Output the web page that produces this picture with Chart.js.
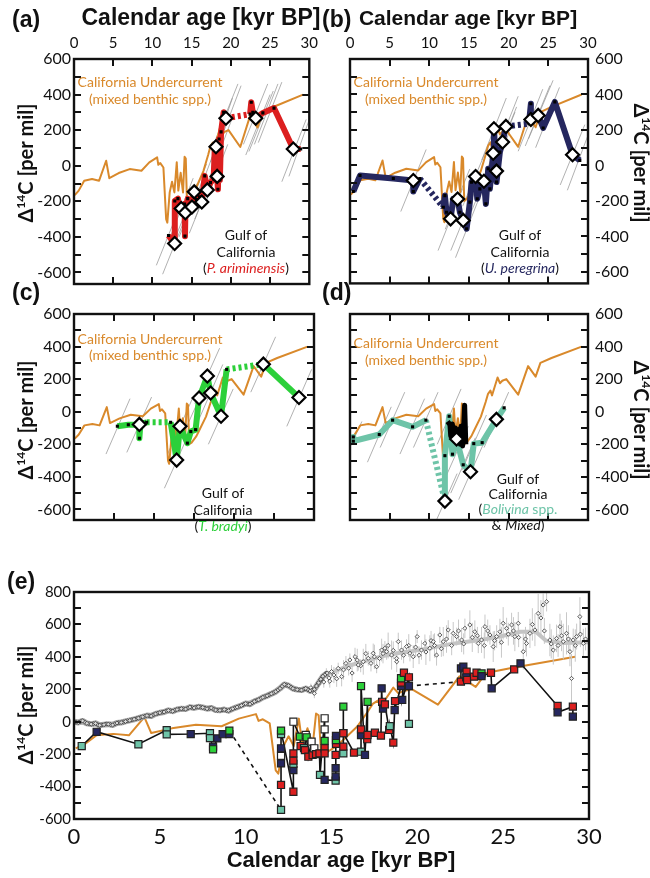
<!DOCTYPE html>
<html><head><meta charset="utf-8">
<script src="https://cdn.jsdelivr.net/npm/chart.js@4.4.0/dist/chart.umd.min.js"></script>
<style>
html,body{margin:0;padding:0;background:#fff;}
body{width:650px;height:878px;position:relative;overflow:hidden;}
canvas{position:absolute;}
</style></head><body>
<canvas id="cA" width="325" height="300" style="left:0;top:0;width:325px;height:300px"></canvas>
<canvas id="cB" width="330" height="300" style="left:320px;top:0;width:330px;height:300px"></canvas>
<canvas id="cC" width="325" height="290" style="left:0;top:270px;width:325px;height:290px"></canvas>
<canvas id="cD" width="330" height="290" style="left:320px;top:270px;width:330px;height:290px"></canvas>
<canvas id="cE" width="650" height="318" style="left:0;top:560px;width:650px;height:318px"></canvas>
<script>
// ---------- tick labels ----------
const xTicks = [0,5,10,15,20,25,30];
const yTicksAD = [-600,-400,-200,0,200,400,600];
const yMinorAD = [-600,-500,-400,-300,-200,-100,0,100,200,300,400,500];
const yTicksE = [-600,-400,-200,0,200,400,600,800];
const yMinorE = [-500,-400,-300,-200,-100,0,100,200,300,400,500,600,700];

// ---------- California Undercurrent (mixed benthic spp.) ----------
const ccAge = [0.1,0.6,1.3,2.3,3.2,4.1,4.5,5.7,7.1,8.6,9.6,10.6,10.75,11.0,11.4,11.75,11.9,12.2,12.5,12.8,13.1,13.3,13.6,13.9,14.1,14.25,14.4,14.7,15.3,15.6,16.5,17.1,17.4,17.7,17.9,18.6,18.9,19.2,19.7,21.2,22.45,23.4,24.0,25.4,29.2];
const ccD14C = [-165,-140,-84,-75,-84,28,-70,-41,-19,-28,19,47,5,15,-10,-300,-320,-150,-90,-150,19,-140,-40,-150,50,40,-200,-190,-150,-120,-30,60,110,130,100,210,175,190,200,105,280,215,300,330,400];

// ---------- (a) P. ariminensis ----------
const paAge = [12.05,12.8,12.85,13.25,13.45,13.67,13.9,14.1,14.15,14.2,14.5,15.04,15.33,15.6,16.0,16.29,16.67,17.0,17.4,17.8,17.95,18.05,18.1,18.25,18.35,18.5,18.6,18.75,19.08,19.37,22.45,22.6,22.8,23.17,24.08,25.5,27.96,28.9];
const paD14C = [-392,-437,-198,-185,-235,-241,-225,-215,-396,-264,-185,-232,-147,-190,-175,-204,-57,-136,-95,-75,100,-40,107,-60,-132,150,-80,190,301,267,290,357,300,267,297,324,94,94];
const paDotted = [29];
const paDiaAge = [12.83,13.67,14.2,15.04,15.33,16.29,17.0,18.25,18.1,19.37,23.17,27.96];
const paDiaD14C = [-437,-241,-264,-232,-147,-204,-136,-60,107,267,267,94];
const paGrey = [[10.5,-560,13.6,-220],[11.3,-610,14.4,-270],[12.1,-420,15.2,-70],[12.6,-440,15.7,-100],[13.4,-400,16.6,-60],[13.8,-330,16.9,10],[14.7,-380,17.8,-40],[15.4,-300,18.5,40],[16.6,-230,19.6,120],[16.6,-70,19.6,280],[17.2,-80,20.2,270],[17.4,20,20.2,380],[17.8,120,20.9,460],[18.3,100,21.3,450],[21.6,120,24.7,460],[21.9,60,25.0,400],[22.3,80,25.4,420],[23.0,120,26.0,460],[23.5,130,26.5,470],[26.5,-90,29.6,260],[27.4,-60,30,260]];

// ---------- (b) U. peregrina ----------
const pbAge = [0.42,1.26,5.46,7.98,7.98,8.8,11.76,11.96,12.17,12.68,13.0,13.56,13.85,14.27,14.7,15.11,15.32,15.83,16.04,16.37,16.88,17.13,17.42,17.63,18.05,18.14,18.47,18.47,18.89,19.23,19.65,22.55,22.8,22.8,23.72,24.35,25.82,28.05,28.97];
const pbD14C = [-147,-57,-74,-85,-147,-74,-236,-170,-264,-301,-188,-189,-264,-310,-357,-207,-94,-62,-188,-132,-89,-217,-19,-132,69,207,-32,-94,75,132,220,235,348,259,282,211,358,60,28];
const pbDotted = [5,30];
const pbDiaAge = [7.98,12.68,13.56,14.27,15.83,16.88,18.05,18.14,18.47,19.23,19.65,22.8,23.72,28.05];
const pbDiaD14C = [-85,-301,-189,-310,-62,-89,69,207,-32,132,220,259,282,60];
const pbGrey = [[6.4,-260,9.6,90],[11.1,-480,14.2,-130],[12.0,-360,15.1,-20],[12.7,-480,15.8,-140],[13.3,-520,16.4,-170],[14.2,-230,17.4,110],[15.3,-260,18.4,80],[16.5,-110,19.6,240],[16.6,30,19.7,380],[17.0,-160,20.1,190],[17.7,-40,20.8,300],[17.9,-20,21.0,330],[18.1,40,21.2,390],[21.2,80,24.3,430],[22.1,110,25.2,450],[22.5,150,25.6,480],[23.4,100,26.4,440],[26.5,-110,29.6,230],[27.4,-140,30,170]];

// ---------- (c) T. bradyi ----------
const pcAge = [5.42,6.79,8.17,8.17,8.3,9.08,12.08,12.83,13.25,14.17,14.6,15.2,15.63,16.67,17.08,18.38,19.08,23.67,28.12];
const pcD14C = [-89,-80,-78,-163,-75,-65,-65,-297,-89,-193,-122,-110,84,219,115,-28,260,292,87];
const pcDotted = [5,16];
const pcDiaAge = [8.17,12.83,13.25,15.63,16.67,17.08,18.38,23.67,28.12];
const pcDiaD14C = [-78,-297,-89,84,219,115,-28,292,87];
const pcGrey = [[4.0,-260,7.0,80],[6.6,-250,9.7,90],[11.3,-470,14.4,-130],[11.7,-260,14.8,80],[14.1,-90,17.2,250],[15.1,50,18.2,390],[15.5,-60,18.6,290],[16.8,-200,19.9,140],[22.1,120,25.2,460],[26.6,-90,29.7,260]];

// ---------- (d) Bolivina spp. & Mixed ----------
const pdAge = [0.42,0.42,3.69,5.37,7.89,9.57,11.96,11.96,12.5,12.92,13.43,14.27,15.19,15.6,16.66,18.46,19.43];
const pdD14C = [-155,-181,-140,-52,-93,-52,-549,-270,-28,-261,-168,-326,-369,-196,-190,-47,24];
const pdDotted = [5];
const pmAge = [12.3,12.6,12.7,12.9,13.1,13.3,13.5,13.7,13.9,14.0,14.2,14.3,14.45,14.6];
const pmD14C = [-60,-80,-150,-75,-160,-100,-180,-110,-200,-90,-210,-120,40,-200];
const pdDiaAge = [11.96,13.43,15.19,18.46];
const pdDiaD14C = [-549,-168,-369,-47];
const pdGrey = [[-0.5,-270,1.5,-60],[2.2,-310,5.2,30],[3.8,-220,6.9,120],[6.3,-260,9.4,80],[8.0,-220,11.1,120],[10.4,-720,13.5,-380],[11.0,-200,14.0,140],[11.8,-430,14.9,-90],[12.7,-500,15.8,-160],[13.7,-540,16.8,-200],[14.1,-360,17.2,-20],[16.9,-220,20.0,120]];

// ---------- (e) composite ----------
const eAge = [0.45,1.32,3.75,5.4,5.4,6.8,7.92,7.92,8.1,8.1,8.35,8.66,9.05,9.05,12.06,12.06,12.06,12.06,12.06,12.06,12.06,12.78,12.78,12.78,12.78,12.78,12.78,13.16,13.2,13.4,13.45,13.5,13.55,13.65,13.84,13.9,14.0,14.1,14.3,14.33,14.6,14.6,14.6,14.6,14.6,14.6,15.24,15.24,15.24,15.24,15.26,15.26,15.26,15.69,15.69,15.69,15.69,15.69,16.31,16.72,16.72,16.72,16.72,16.95,17.1,17.08,17.1,17.53,17.88,17.92,17.95,18.0,18.11,18.36,18.4,18.6,18.7,18.68,19.05,19.05,19.05,19.22,19.12,19.51,19.51,19.51,22.54,22.54,22.68,22.87,22.85,22.9,23.3,23.45,23.74,23.74,24.29,24.33,25.64,26.01,28.17,28.17,29.06,29.06];
const eD14C = [-150,-62,-139,-52,-78,-76,-71,-101,-154,-170,-103,-77,-76,-55,-544,-390,-257,-211,-164,-76,-55,-432,-298,-260,-240,-195,0,-92,-150,-163,-175,-82,-96,-216,-123,-205,-164,-200,-195,-328,21,-47,-118,-164,-195,-359,-363,-339,-287,-205,-137,-113,-88,-195,-154,-71,93,-71,-191,-185,-82,-47,220,-205,123,-108,-82,-68,-86,206,123,81,107,-51,-27,-129,127,72,220,241,268,302,134,274,-13,220,247,329,340,309,274,257,278,302,298,281,302,206,323,360,97,58,93,31];
const eSpecies = ['B','U','B','B','B','U','B','B','U','T','U','U','U','T','B','P','U','M','U','B','T','P','U','B','P','P','M','T','P','B','P','M','T','P','M','P','M','P','P','B','M','M','T','P','P','U','B','U','U','P','P','T','U','B','P','U','T','P','P','B','U','P','T','U','T','P','P','P','P','U','P','U','P','P','B','P','P','U','U','P','T','P','U','P','B','U','P','U','U','P','U','P','P','P','T','U','P','U','P','U','P','U','P','U'];
const eDashed = [13,85];

// atmospheric record (dense band, two interleaved readings)
const atmAge = [0,0.25,0.5,0.75,1.0,1.25,1.5,1.75,2.0,2.25,2.5,2.75,3.0,3.25,3.5,3.75,4.0,4.25,4.5,4.75,5.0,5.25,5.5,5.75,6.0,6.25,6.5,6.75,7.0,7.25,7.5,7.75,8.0,8.25,8.5,8.75,9.0,9.25,9.5,9.75,10.0,10.25,10.5,10.75,11.0,11.25,11.5,11.75,12.0,12.25,12.5,12.75,13.0,13.25,13.5,13.75,14.0,14.25,14.5,14.75];
const atmD14C = [0,-5,5,-10,-15,-10,-22,-18,-15,-20,-8,-5,2,8,15,22,30,38,35,48,55,60,70,65,75,80,78,90,85,92,88,80,85,72,70,75,68,80,90,100,112,108,125,135,150,160,172,185,205,230,222,205,198,195,205,190,200,240,280,300];
const atmAge2 = [0.125,0.375,0.625,0.875,1.125,1.375,1.625,1.875,2.125,2.375,2.625,2.875,3.125,3.375,3.625,3.875,4.125,4.375,4.625,4.875,5.125,5.375,5.625,5.875,6.125,6.375,6.625,6.875,7.125,7.375,7.625,7.875,8.125,8.375,8.625,8.875,9.125,9.375,9.625,9.875,10.125,10.375,10.625,10.875,11.125,11.375,11.625,11.875,12.125,12.375,12.625,12.875,13.125,13.375,13.625,13.875,14.125,14.375,14.625];
const atmD14C2 = [-3,0,-2,-12,-12,-18,-20,-14,-18,-14,-6,-2,5,12,18,26,33,36,42,52,58,66,67,70,78,79,84,88,90,90,84,82,78,70,73,70,74,85,95,106,110,116,130,142,155,166,178,195,218,226,214,200,196,200,198,195,220,262,290];
// atmospheric record (scattered, older)
const scatAge = [13.8,14.0,14.2,14.4,14.55,14.7,14.85,15.0,15.14,15.39,15.59,15.84,16.07,16.37,16.56,16.85,17.14,17.43,17.63,17.92,18.11,18.21,18.5,18.79,18.89,19.08,19.37,19.57,19.76,19.99,20.24,20.44,20.73,20.93,21.12,21.31,21.51,21.8,22.09,22.29,22.58,22.77,23.06,23.35,23.55,23.74,23.94,24.23,24.42,24.62,24.81,25.0,25.2,25.49,25.68,25.88,26.17,26.36,26.56,26.85,27.04,27.33,27.53,27.72,27.92,28.11,28.31,28.5,28.69,28.89,28.98,29.08,29.28,29.47,29.67];
const scatD14C = [210,175,230,260,245,300,270,309,288,329,278,360,381,401,350,370,391,422,339,442,453,432,411,391,494,442,463,422,401,525,442,483,453,494,411,535,494,566,545,525,504,576,597,555,483,504,586,535,463,525,555,607,576,597,525,607,432,483,545,566,668,720,740,504,442,514,586,494,545,432,267,504,525,648,483];
const scatErr = [25,30,25,30,35,30,40,40,50,35,60,45,40,55,35,80,45,60,40,70,45,50,90,40,55,60,45,50,70,40,60,55,80,45,65,50,90,60,70,55,75,60,90,70,60,80,75,60,95,70,80,100,65,75,90,70,110,80,90,100,120,70,60,100,90,85,80,110,130,90,150,70,80,120,90];
const scatAge2 = [14.9,15.3,15.7,16.0,16.2,16.5,16.7,17.0,17.3,17.5,17.8,18.0,18.3,18.6,18.8,19.2,19.5,19.9,20.1,20.5,20.8,21.0,21.4,21.7,22.0,22.4,22.7,23.2,23.5,23.9,24.1,24.5,24.9,25.3,25.6,25.9,26.3,26.7,27.2,27.4,27.8,28.2,28.4,28.8,29.2,29.5,29.8];
const scatD14C2 = [250,265,320,330,300,380,345,420,360,400,390,420,470,440,370,410,470,460,410,430,500,470,450,510,470,560,480,520,530,470,560,500,490,540,560,520,510,600,640,560,480,470,530,510,470,540,510];
const scatErr2 = [40,50,60,45,55,70,40,60,50,75,45,60,80,55,65,50,70,60,55,80,60,75,50,85,60,70,65,90,55,80,70,60,95,70,85,60,75,100,110,80,90,70,95,85,100,80,70];
// smoothed atmospheric curve
const atmLineAge = [0,1,2,3,4,5,6,7,8,9,10,11,12,12.4,13,14,14.6,15,16,17,18,19,20,21,22,23,24,25,26,26.9,27.5,28.5,30];
const atmLineD14C = [0,-15,-15,0,30,55,75,88,82,70,110,150,205,228,198,195,290,305,345,375,405,425,440,460,480,495,510,530,555,555,500,485,490];

// ---------- styles ----------
const ORANGE = '#D9892B', RED = '#DC1F1F', NAVY = '#25275F', GREEN = '#2CD03A', TEAL = '#6EC4A8';
const spColor = {P: RED, U: NAVY, T: GREEN, B: TEAL, M: '#FFFFFF'};

Chart.defaults.font.family = 'Lato';

function pts(xs, ys){ return xs.map((x,i)=>({x:x, y:ys[i]})); }
function segs(arr){ const o=[]; arr.forEach(s=>{ o.push({x:s[0],y:s[1]},{x:s[2],y:s[3]},{x:s[2],y:null}); }); return o; }
function errBars(xs, ys, es){ const o=[]; xs.forEach((x,i)=>{ o.push({x:x,y:ys[i]-es[i]},{x:x,y:ys[i]+es[i]},{x:x,y:null}); }); return o; }

function greyDs(arr){ return {data: segs(arr), borderColor:'#8f8f8f', borderWidth:0.7, pointRadius:0, spanGaps:false}; }
function orangeDs(w){ return {data: pts(ccAge, ccD14C), borderColor: ORANGE, borderWidth: w, pointRadius:0, borderJoinStyle:'round'}; }
function foramDs(xs, ys, color, dotted){ return {data: pts(xs, ys), borderColor: color, borderWidth: 6, borderJoinStyle:'round', borderCapStyle:'butt',
  pointStyle:'rect', pointRadius:2.2, pointBackgroundColor:'#000', pointBorderWidth:0,
  segment:{borderDash: c => dotted.includes(c.p0DataIndex) ? [3,3] : undefined}}; }
function diaDs(xs, ys){ return {data: pts(xs, ys), showLine:false, pointStyle:'rectRot', pointRadius:6.5, pointBackgroundColor:'#fff', pointBorderColor:'#000', pointBorderWidth:2.2}; }
function atmPts(xs, ys, fill){ return {data: pts(xs, ys), showLine:false, pointStyle:'rectRot', pointRadius:2.1, pointBackgroundColor:fill, pointBorderColor:'#333', pointBorderWidth:0.8}; }

function drawItem(ctx, it){
  ctx.save();
  ctx.translate(it.x, it.y);
  if (it.rot) ctx.rotate(it.rot);
  ctx.textBaseline = 'middle';
  const fam = it.family || 'Lato';
  let total = 0;
  const parts = it.runs.map(r => {
    const f = (r.style||'normal') + ' ' + (r.weight||it.weight||'normal') + ' ' + (r.size||it.size) + 'px ' + (r.family||fam);
    ctx.font = f; const w = ctx.measureText(r.t).width; total += w; return {f:f, w:w, r:r};
  });
  let x = it.align === 'left' ? 0 : -total/2;
  parts.forEach(p => { ctx.font = p.f; ctx.fillStyle = p.r.c || it.color || '#111'; ctx.fillText(p.r.t, x, p.r.dy || 0); x += p.w; });
  ctx.restore();
}

function framePlugin(o){
  return { id:'frame', afterDatasetsDraw(chart){
    const ctx = chart.ctx, a = chart.chartArea, xs = chart.scales.x, ys = chart.scales.y;
    ctx.save();
    ctx.strokeStyle = '#111'; ctx.lineWidth = 2.4;
    ctx.strokeRect(a.left, a.top, a.right - a.left, a.bottom - a.top);
    ctx.lineWidth = 2;
    ctx.beginPath();
    o.yMinor.forEach(v => { const p = Math.round(ys.getPixelForValue(v)); ctx.moveTo(a.left, p); ctx.lineTo(a.left + 7, p); ctx.moveTo(a.right, p); ctx.lineTo(a.right - 7, p); });
    (o.xMinor||[]).forEach(v => { const p = Math.round(xs.getPixelForValue(v)); ctx.moveTo(p, a.top); ctx.lineTo(p, a.top + 7); ctx.moveTo(p, a.bottom); ctx.lineTo(p, a.bottom - 7); });
    ctx.stroke();
    ctx.restore();
  }};
}
function textPlugin(items){
  return { id:'texts', afterDraw(chart){ items.forEach(it => drawItem(chart.ctx, it)); } };
}
function yTitle(x, y, rot){
  return {x:x, y:y, rot:rot, size:20, weight:'bold', runs:[{t:'Δ'},{t:'14', size:12, dy:-6},{t:'C [per mil]'}]};
}

function makePanel(id, o){
  const cv = document.getElementById(id);
  const W = cv.width, H = cv.height, A = o.area;
  const yLeft = o.yPos === 'left';
  const xShown = !!o.xPos;
  const pad = { left: yLeft ? 0 : A[0], right: yLeft ? W - A[2] : 0,
    top: o.xPos === 'top' ? 0 : A[1], bottom: o.xPos === 'bottom' ? 0 : H - A[3] };
  new Chart(cv, {
    type:'line',
    data:{datasets:o.datasets},
    options:{
      responsive:false, animation:false, devicePixelRatio:1, events:[],
      layout:{padding:pad},
      plugins:{legend:{display:false}, tooltip:{enabled:false}},
      scales:{
        x:{type:'linear', min:0, max:30, position:o.xPos || 'bottom', display:xShown,
          grid:{display:false, drawTicks:false}, border:{display:false},
          ticks:{font:{family:'Lato', size:o.xFont||15}, color:'#111', padding:o.xPad||6, maxRotation:0, autoSkip:false},
          afterBuildTicks: s => { s.ticks = xTicks.map(v => ({value:v})); },
          afterFit: s => { s.height = o.xPos === 'top' ? A[1] : H - A[3]; }},
        y:{type:'linear', min:o.yMin, max:o.yMax, position:o.yPos,
          grid:{display:false, drawTicks:false}, border:{display:false},
          ticks:{font:{family:'Lato', size:o.yFont||16}, color:'#111', padding:o.yPad, autoSkip:false},
          afterBuildTicks: s => { s.ticks = o.yTicks.map(v => ({value:v})); },
          afterFit: s => { s.width = yLeft ? A[0] : W - A[2]; }}
      }
    },
    plugins:[framePlugin(o), textPlugin(o.texts)]
  });
}

const cuTexts = (cx, y1, y2) => [
  {x:cx, y:y1, size:14, runs:[{t:'California Undercurrent', c:ORANGE}]},
  {x:cx, y:y2, size:14, runs:[{t:'(mixed benthic spp.)', c:ORANGE}]}
];

// (a)
makePanel('cA', {
  area:[74,59,314,284], yPos:'left', xPos:'top', yMin:-665, yMax:600, yTicks:yTicksAD, yMinor:yMinorAD, xMinor:[5,10,15,20,25],
  yPad:3, xPad:7,
  datasets:[ diaDs(paDiaAge, paDiaD14C), foramDs(paAge, paD14C, RED, paDotted), orangeDs(2), greyDs(paGrey) ],
  texts:[
    {x:12, y:21, align:'left', size:23, weight:'bold', family:'Liberation Sans', runs:[{t:'(a)'}]},
    {x:201, y:19, size:23, weight:'bold', family:'Liberation Sans', runs:[{t:'Calendar age [kyr BP]'}]},
    yTitle(27, 163, -Math.PI/2),
    ...cuTexts(150, 82, 99),
    {x:246, y:235, size:14, runs:[{t:'Gulf of'}]},
    {x:246, y:252, size:14, runs:[{t:'California'}]},
    {x:246, y:268, size:14, runs:[{t:'('},{t:'P. ariminensis', c:RED, style:'italic'},{t:')'}]}
  ]
});
// (b)
makePanel('cB', {
  area:[30,59,268,284], yPos:'right', xPos:'top', yMin:-665, yMax:600, yTicks:yTicksAD, yMinor:yMinorAD, xMinor:[5,10,15,20,25],
  yPad:7, xPad:7,
  datasets:[ diaDs(pbDiaAge, pbDiaD14C), foramDs(pbAge, pbD14C, NAVY, pbDotted), orangeDs(2), greyDs(pbGrey) ],
  texts:[
    {x:2, y:21, align:'left', size:23, weight:'bold', family:'Liberation Sans', runs:[{t:'(b)'}]},
    {x:148, y:19, size:21, weight:'bold', family:'Liberation Sans', runs:[{t:'Calendar age [kyr BP]'}]},
    yTitle(320, 163, Math.PI/2),
    ...cuTexts(106, 82, 99),
    {x:200, y:235, size:14, runs:[{t:'Gulf of'}]},
    {x:200, y:252, size:14, runs:[{t:'California'}]},
    {x:200, y:268, size:14, runs:[{t:'('},{t:'U. peregrina', c:NAVY, style:'italic'},{t:')'}]}
  ]
});
// (c)
makePanel('cC', {
  area:[74,44,314,270], yPos:'left', xPos:null, yMin:-665, yMax:600, yTicks:yTicksAD, yMinor:yMinorAD, xMinor:[5,10,15,20,25],
  yPad:3,
  datasets:[ diaDs(pcDiaAge, pcDiaD14C), foramDs(pcAge, pcD14C, GREEN, pcDotted), orangeDs(2), greyDs(pcGrey) ],
  texts:[
    {x:12, y:24, align:'left', size:23, weight:'bold', family:'Liberation Sans', runs:[{t:'(c)'}]},
    yTitle(27, 150, -Math.PI/2),
    ...cuTexts(150, 69, 85),
    {x:223, y:223, size:14, runs:[{t:'Gulf of'}]},
    {x:223, y:240, size:14, runs:[{t:'California'}]},
    {x:223, y:256, size:14, runs:[{t:'('},{t:'T. bradyi', c:GREEN, style:'italic'},{t:')'}]}
  ]
});
// (d)
makePanel('cD', {
  area:[30,44,268,270], yPos:'right', xPos:null, yMin:-665, yMax:600, yTicks:yTicksAD, yMinor:yMinorAD, xMinor:[5,10,15,20,25],
  yPad:7,
  datasets:[ diaDs(pdDiaAge, pdDiaD14C),
    {data:pts(pmAge, pmD14C), borderColor:'#000', borderWidth:5, borderJoinStyle:'round', pointRadius:0},
    foramDs(pdAge, pdD14C, TEAL, pdDotted), orangeDs(2), greyDs(pdGrey) ],
  texts:[
    {x:2, y:24, align:'left', size:23, weight:'bold', family:'Liberation Sans', runs:[{t:'(d)'}]},
    yTitle(320, 150, Math.PI/2),
    ...cuTexts(106, 73, 90),
    {x:198, y:209, size:14, runs:[{t:'Gulf of'}]},
    {x:198, y:224, size:14, runs:[{t:'California'}]},
    {x:198, y:239, size:14, runs:[{t:'('},{t:'Bolivina', c:TEAL, style:'italic'},{t:' spp.', c:TEAL}]},
    {x:198, y:255, size:14, runs:[{t:'& '},{t:'Mixed', style:'italic'},{t:')'}]}
  ]
});
// (e)
makePanel('cE', {
  area:[74,32,589,259], yPos:'left', xPos:'bottom', yMin:-600, yMax:800, yTicks:yTicksE, yMinor:yMinorE,
  yPad:3, xPad:5, xFont:22, yFont:15,
  datasets:[
    {data:pts(eAge, eD14C), borderColor:'#111', borderWidth:1.6, pointStyle:'rect', pointRadius:5,
      pointBackgroundColor: eSpecies.map(s => spColor[s]), pointBorderColor:'#222', pointBorderWidth:1.2,
      segment:{borderDash: c => eDashed.includes(c.p0DataIndex) ? [4,4] : undefined}},
    atmPts(atmAge, atmD14C, '#d8d8d8'),
    atmPts(atmAge2, atmD14C2, '#d8d8d8'),
    atmPts(scatAge, scatD14C, '#f4f4f4'),
    atmPts(scatAge2, scatD14C2, '#f4f4f4'),
    {data:pts(atmAge, atmD14C), borderColor:'#a9a9a9', borderWidth:6, pointRadius:0, borderJoinStyle:'round'},
    {data:pts(atmLineAge, atmLineD14C), borderColor:'#c4c4c4', borderWidth:4, pointRadius:0, borderJoinStyle:'round'},
    {data:errBars(scatAge, scatD14C, scatErr), borderColor:'#c8c8c8', borderWidth:1, pointRadius:0},
    {data:errBars(scatAge2, scatD14C2, scatErr2), borderColor:'#c8c8c8', borderWidth:1, pointRadius:0},
    orangeDs(2)
  ],
  texts:[
    {x:7, y:23, align:'left', size:23, weight:'bold', family:'Liberation Sans', runs:[{t:'(e)'}]},
    yTitle(27, 145, -Math.PI/2),
    {x:341, y:301, size:22, weight:'bold', family:'Liberation Sans', runs:[{t:'Calendar age [kyr BP]'}]}
  ]
});
</script>
</body></html>
